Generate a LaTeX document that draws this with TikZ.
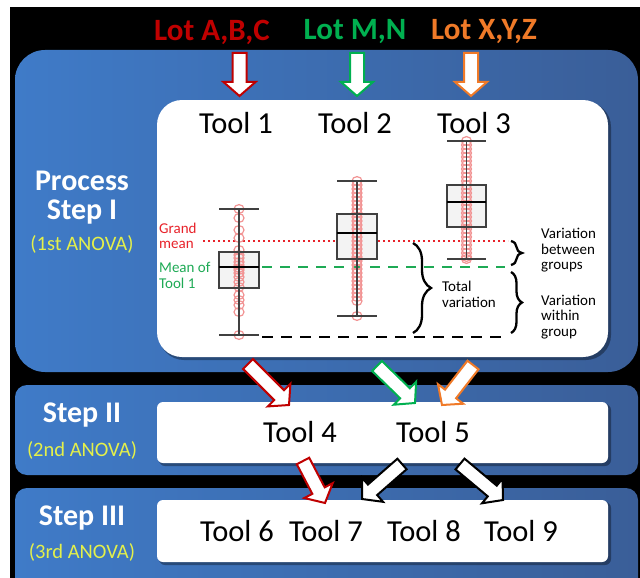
\documentclass[tikz,border=0pt]{standalone}
\usepackage{fontspec}
\setmainfont{Carlito}
\usetikzlibrary{calc,decorations.pathreplacing}

\definecolor{lotred}{HTML}{C00000}
\definecolor{lotgreen}{HTML}{00B050}
\definecolor{lotorange}{HTML}{F07A28}
\definecolor{anova}{HTML}{E4F04A}
\definecolor{pblueL}{HTML}{3F7BC8}
\definecolor{pblueR}{HTML}{3A5E98}
\definecolor{gmred}{HTML}{E8222A}
\definecolor{mgreen}{HTML}{1EAA55}
\definecolor{ptpink}{HTML}{F29494}
\definecolor{boxgrey}{HTML}{F3F3F3}
\definecolor{whisk}{HTML}{404040}

\newcommand\blockarr[3]{%
  \coordinate (hb) at ($(#2)!14pt!(#1)$);
  \filldraw[fill=white, draw=#3, line width=2, line join=miter]
    ($(#1)!7pt!90:(#2)$) -- ($(hb)!7pt!-90:(#1)$) -- ($(hb)!16pt!-90:(#1)$) --
    (#2) -- ($(hb)!16pt!90:(#1)$) -- ($(hb)!7pt!90:(#1)$) --
    ($(#1)!7pt!-90:(#2)$) -- cycle;
}

\tikzset{
  lot/.style={font=\fontsize{31}{33}\selectfont\bfseries},
  tooltxt/.style={font=\fontsize{30.5}{33}\selectfont, text=black},
  steptxt/.style={font=\fontsize{30}{29}\selectfont\bfseries, text=white, align=center},
  anovatxt/.style={font=\fontsize{20.5}{22}\selectfont, text=anova},
  small/.style={font=\fontsize{15}{15.5}\selectfont, align=left, inner sep=0},
  panel/.style={left color=pblueL, right color=pblueR},
  wpanel/.style={fill=white},
  shadowp/.style={fill=black, opacity=0.35},
  whisker/.style={draw=whisk, line width=1.5},
  boxs/.style={fill=boxgrey, draw=whisk, line width=1.4},
  median/.style={draw=black, line width=2.2},
  pt/.style={draw=ptpink, line width=1.2},
  bracel/.style={draw=black, line width=2.3, decorate},
}

\begin{document}
\begin{tikzpicture}[x=1pt,y=-1pt]
\useasboundingbox (0,0) rectangle (640,578);
\clip (0,0) rectangle (640,578);
\fill[white] (0,0) rectangle (640,578);
\fill[black] (10,7) rectangle (640,578);

% blue panels
\shade[panel, rounded corners=30] (15,50) rectangle (638,372);
\shade[panel, rounded corners=12] (15,385) rectangle (638,475);
\shade[panel, rounded corners=12] (15,488) rectangle (638,592);

% white panels (with shadow)
\fill[shadowp, rounded corners=25] (159,102) rectangle (611,360);
\fill[wpanel, rounded corners=25] (157,100) rectangle (608,357);
\fill[shadowp, rounded corners=6] (159,404) rectangle (611,466);
\fill[wpanel, rounded corners=6] (157,402) rectangle (608,463);
\fill[shadowp, rounded corners=6] (159,502) rectangle (611,565);
\fill[wpanel, rounded corners=6] (157,500) rectangle (608,562);

% lot labels
\node[lot, text=lotred] (lotA) at (212,32) {Lot A,B,C};
\node[lot, text=lotgreen] (lotM) at (355,32) {Lot M,N};
\node[lot, text=lotorange] (lotX) at (484,32) {Lot X,Y,Z};

% step labels
\node[steptxt] (s1) at (82,197.5) {Process\\Step I};
\node[anovatxt] (a1) at (82,244) {(1st ANOVA)};
\node[steptxt] (s2) at (82,415) {Step II};
\node[anovatxt] (a2) at (82,450) {(2nd ANOVA)};
\node[steptxt] (s3) at (82,518) {Step III};
\node[anovatxt] (a3) at (82,552) {(3rd ANOVA)};

% tools
\node[tooltxt] (t1) at (236,123) {Tool 1};
\node[tooltxt] (t2) at (355,123) {Tool 2};
\node[tooltxt] (t3) at (474,123) {Tool 3};
\node[tooltxt] (t4) at (300,432) {Tool 4};
\node[tooltxt] (t5) at (433,432) {Tool 5};
\node[tooltxt] (t6) at (237,531) {Tool 6};
\node[tooltxt] (t7) at (326,531) {Tool 7};
\node[tooltxt] (t8) at (424,531) {Tool 8};
\node[tooltxt] (t9) at (521,531) {Tool 9};

% reference lines
\draw[gmred, line width=2.6, dash pattern=on 2.4pt off 2.6pt] (203,241) coordinate (gmS) -- (508,241) coordinate (gmE);
\draw[mgreen, line width=2.6, dash pattern=on 10pt off 8pt] (262,267) coordinate (m1S) -- (505,267) coordinate (m1E);
\draw[black, line width=2.6, dash pattern=on 11pt off 8pt] (262,337) coordinate (bS) -- (505,337) coordinate (bE);

% box plots
% Tool 1
\draw[boxs, draw=none] (219,252) rectangle (259,288);
\foreach \y in {209,218,230,238,250,255,258,262,265,268,270,273,277,282,287,295,300,305,312,335}
  \draw[pt] (239,\y) ellipse [x radius=5, y radius=4.4];
\draw[whisker] (239,209) -- (239,335);
\draw[whisker] (219,209) -- (259,209);
\draw[whisker] (219,335) -- (259,335);
\draw[boxs, fill=none] (219,252) rectangle (259,288);
\draw[median] (219,267) -- (259,267);
% Tool 2
\draw[boxs, draw=none] (337,214) rectangle (377,259);
\foreach \y in {181,185,...,301,316}
  \draw[pt] (357,\y) ellipse [x radius=5, y radius=4.4];
\draw[whisker] (357,181) -- (357,316);
\draw[whisker] (337,181) -- (377,181);
\draw[whisker] (337,316) -- (377,316);
\draw[boxs, fill=none] (337,214) rectangle (377,259);
\draw[median] (337,233) -- (377,233);
% Tool 3
\draw[boxs, draw=none] (447,185) rectangle (486,227);
\foreach \y in {141,145,...,257,259}
  \draw[pt] (466.5,\y) ellipse [x radius=5, y radius=4.4];
\draw[whisker] (466.5,141) -- (466.5,259);
\draw[whisker] (447,141) -- (486,141);
\draw[whisker] (447,259) -- (486,259);
\draw[boxs, fill=none] (447,185) rectangle (486,227);
\draw[median] (447,202) -- (486,202);

% labels inside plot
\node[small, text=gmred, anchor=west] (gm) at (159,236) {Grand\\mean};
\node[small, text=mgreen, anchor=west] (mt) at (159,275.5) {Mean of\\Tool 1};
\node[small, anchor=west] (tv) at (442,294.5) {Total\\variation};
\node[small, anchor=west] (vb) at (541,250.5) {Variation\\between\\groups};
\node[small, anchor=west] (vw) at (541,317) {Variation\\within\\group};

% braces
\draw[bracel, decoration={brace, amplitude=18pt}] (413,243) -- (413,333);
\draw[bracel, decoration={brace, amplitude=11pt}] (511,241) -- (511,265);
\draw[bracel, decoration={brace, amplitude=11pt}] (511,272) -- (511,333);

% top arrows
\coordinate (aAs) at (239.5,53); \coordinate (aAe) at (239.5,96);
\coordinate (aMs) at (357,53);   \coordinate (aMe) at (357,96);
\coordinate (aXs) at (471,53);   \coordinate (aXe) at (471,96);
\blockarr{aAs}{aAe}{lotred}
\blockarr{aMs}{aMe}{lotgreen}
\blockarr{aXs}{aXe}{lotorange}

% arrows step I -> II
\coordinate (bAs) at (248,364); \coordinate (bAe) at (289,405);
\coordinate (bMs) at (377,366); \coordinate (bMe) at (415,403);
\coordinate (bXs) at (473,365); \coordinate (bXe) at (442,405);
\blockarr{bAs}{bAe}{lotred}
\blockarr{bMs}{bMe}{lotgreen}
\blockarr{bXs}{bXe}{lotorange}

% arrows step II -> III
\coordinate (cAs) at (303,461); \coordinate (cAe) at (325,503);
\coordinate (cLs) at (402,464); \coordinate (cLe) at (362,499);
\coordinate (cRs) at (460,464); \coordinate (cRe) at (503,500);
\blockarr{cAs}{cAe}{lotred}
\blockarr{cLs}{cLe}{black}
\blockarr{cRs}{cRe}{black}
\end{tikzpicture}
\end{document}
